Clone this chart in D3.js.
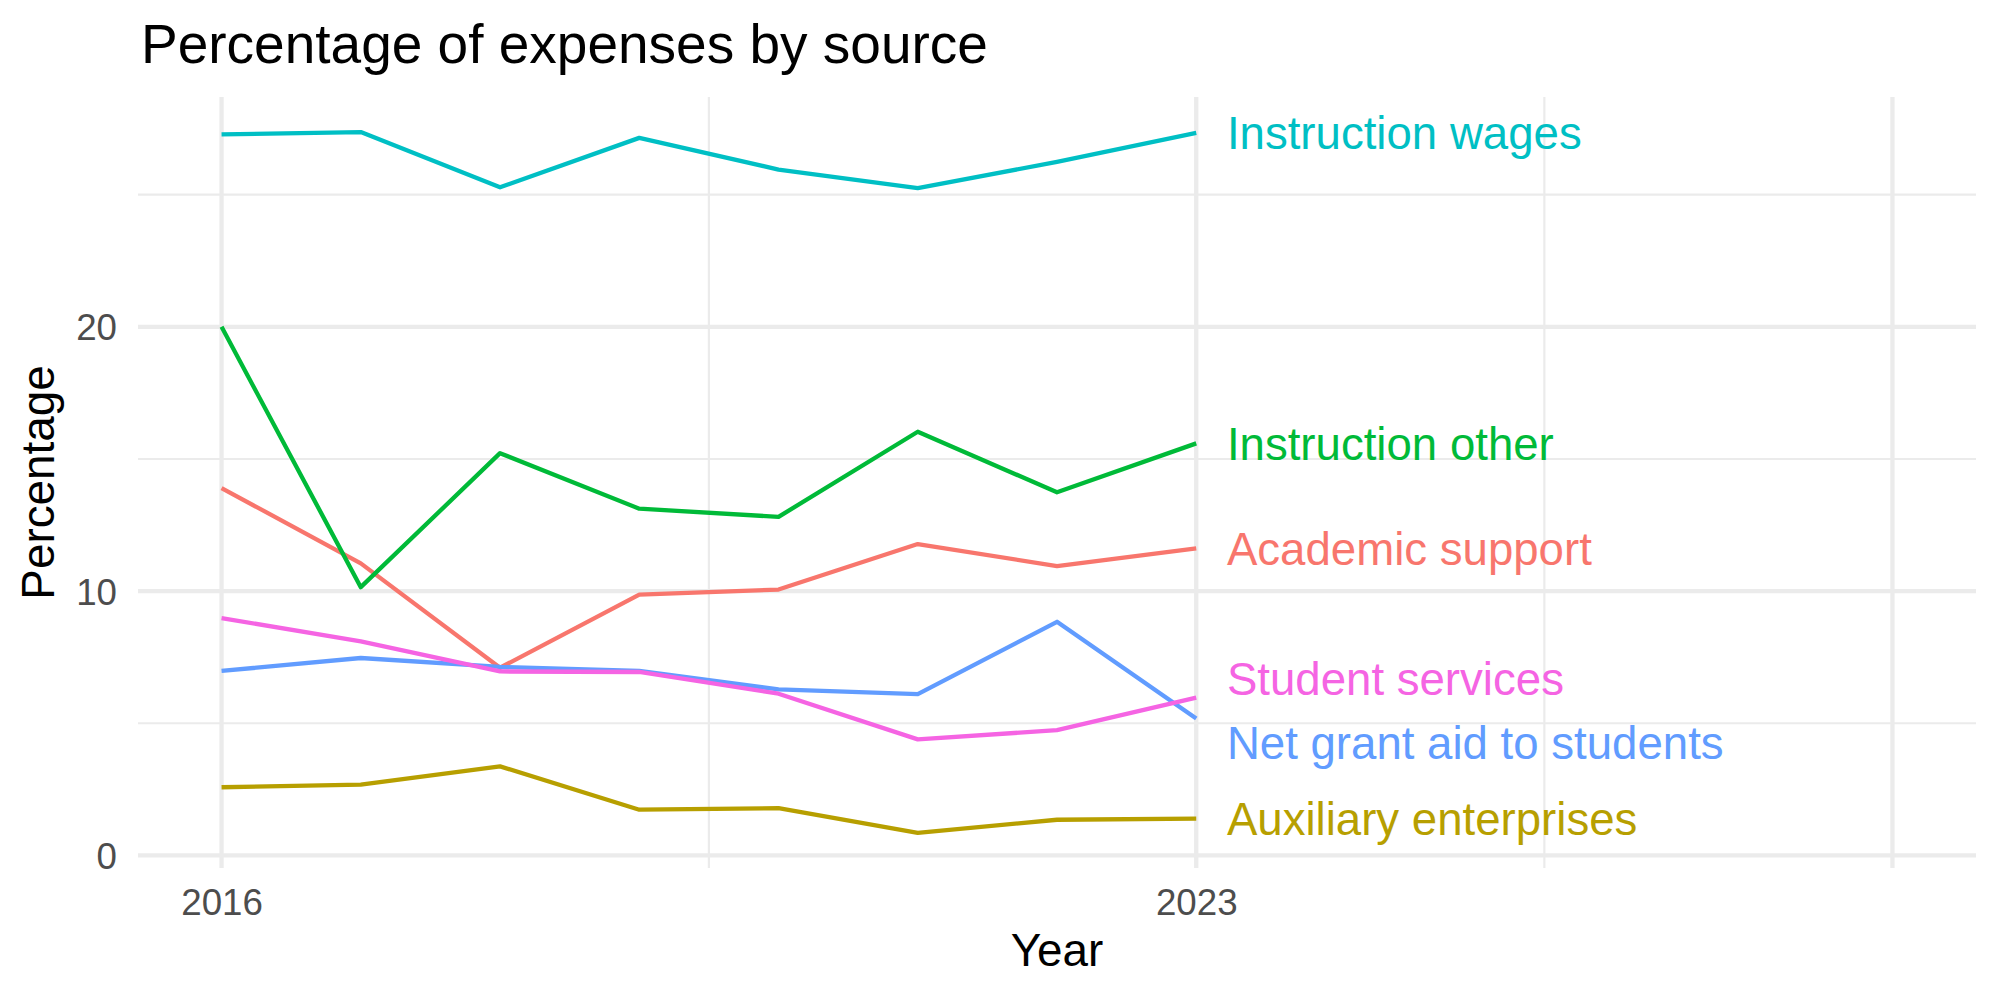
<!DOCTYPE html>
<html>
<head>
<meta charset="utf-8">
<script src="https://cdn.jsdelivr.net/npm/d3@7"></script>
<style>
  html, body { margin: 0; padding: 0; background: #ffffff; }
  svg { display: block; }
  text { font-family: "Liberation Sans", Arial, Helvetica, sans-serif; }
</style>
</head>
<body>
<svg id="chart" width="2000" height="1000"></svg>
<script>
// ---- data ----
const years = [2016, 2017, 2018, 2019, 2020, 2021, 2022, 2023];
const seriesNames = ["Academic support", "Auxiliary enterprises", "Instruction other",
                     "Instruction wages", "Net grant aid to students", "Student services"];
const academicSupport = [13.9, 11.05, 7.1, 9.87, 10.06, 11.78, 10.95, 11.62];
const auxiliaryEnterprises = [2.58, 2.68, 3.37, 1.73, 1.79, 0.85, 1.35, 1.39];
const instructionOther = [20.0, 10.15, 15.22, 13.12, 12.81, 16.03, 13.74, 15.59];
const instructionWages = [27.28, 27.37, 25.28, 27.15, 25.95, 25.25, 26.24, 27.34];
const netGrantAid = [6.98, 7.47, 7.13, 6.98, 6.28, 6.1, 8.84, 5.18];
const studentServices = [8.98, 8.1, 6.96, 6.94, 6.12, 4.39, 4.74, 5.97];
// label y values (repelled label positions, in percentage units)
const labelValues = [11.62, 1.39, 15.59, 27.34, 4.28, 6.67];
const colors = ["#F8766D", "#B79F00", "#00BA38", "#00BFC4", "#619CFF", "#F564E3"];
const xTicks = [2016, 2023, 2028];
const xTickLabels = ["2016", "2023", ""];
const xMinor = [2019.5, 2025.5];
const yTicks = [0, 10, 20];
const yMinor = [5, 15, 25];
const xLimits = [2016, 2028];
const labelNudge = 0.22;

const seriesValues = [academicSupport, auxiliaryEnterprises, instructionOther,
                      instructionWages, netGrantAid, studentServices];
const series = seriesNames.map((name, i) => ({
  name, color: colors[i], labelY: labelValues[i],
  points: years.map((yr, j) => ({ year: yr, value: seriesValues[i][j] }))
}));

// ---- layout ----
const panel = { left: 138, right: 1976, top: 97, bottom: 868 };
const svg = d3.select("#chart");

const xr = xLimits[1] - xLimits[0];
const x = d3.scaleLinear()
  .domain([xLimits[0] - 0.05 * xr, xLimits[1] + 0.05 * xr])
  .range([panel.left, panel.right]);

const allVals = seriesValues.flat();
const vMin = d3.min(allVals), vMax = d3.max(allVals);
const yr = vMax - vMin;
const y = d3.scaleLinear()
  .domain([vMin - 0.05 * yr, vMax + 0.05 * yr])
  .range([panel.bottom, panel.top]);

const grid = svg.append("g");
// minor gridlines
grid.selectAll("line.ymin").data(yMinor).join("line")
  .attr("x1", panel.left).attr("x2", panel.right)
  .attr("y1", d => y(d)).attr("y2", d => y(d))
  .attr("stroke", "#EBEBEB").attr("stroke-width", 2.2);
grid.selectAll("line.xmin").data(xMinor).join("line")
  .attr("y1", panel.top).attr("y2", panel.bottom)
  .attr("x1", d => x(d)).attr("x2", d => x(d))
  .attr("stroke", "#EBEBEB").attr("stroke-width", 2.2);
// major gridlines
grid.selectAll("line.ymaj").data(yTicks).join("line")
  .attr("x1", panel.left).attr("x2", panel.right)
  .attr("y1", d => y(d)).attr("y2", d => y(d))
  .attr("stroke", "#EBEBEB").attr("stroke-width", 4.3);
grid.selectAll("line.xmaj").data(xTicks).join("line")
  .attr("y1", panel.top).attr("y2", panel.bottom)
  .attr("x1", d => x(d)).attr("x2", d => x(d))
  .attr("stroke", "#EBEBEB").attr("stroke-width", 4.3);

// axes (labels only, via d3 axes)
const xAxis = d3.axisBottom(x).tickValues(xTicks)
  .tickFormat((d, i) => xTickLabels[i]).tickSize(0).tickPadding(0);
const gx = svg.append("g").attr("transform", `translate(0, 915)`).call(xAxis);
gx.select(".domain").remove();
gx.selectAll("text").attr("fill", "#4D4D4D").attr("font-size", 36.7)
  .attr("dy", 0).attr("y", 0)
  .style("font-family", '"Liberation Sans", Arial, Helvetica, sans-serif');

const yAxis = d3.axisLeft(y).tickValues(yTicks).tickFormat(d3.format("d"))
  .tickSize(0).tickPadding(0);
const gy = svg.append("g").attr("transform", `translate(117, 0)`).call(yAxis);
gy.select(".domain").remove();
gy.selectAll("text").attr("fill", "#4D4D4D").attr("font-size", 36.7)
  .attr("x", 0).attr("dy", "0.358em")
  .style("font-family", '"Liberation Sans", Arial, Helvetica, sans-serif');

// lines
const line = d3.line().x(d => x(d.year)).y(d => y(d.value));
svg.append("g").selectAll("path").data(series).join("path")
  .attr("d", d => line(d.points))
  .attr("fill", "none")
  .attr("stroke", d => d.color)
  .attr("stroke-width", 4.3)
  .attr("stroke-linejoin", "round")
  .attr("stroke-linecap", "butt");

// end labels
svg.append("g").selectAll("text").data(series).join("text")
  .attr("x", x(years[years.length - 1] + labelNudge))
  .attr("y", d => y(d.labelY))
  .attr("dy", "0.358em")
  .attr("fill", d => d.color)
  .attr("font-size", 45.6)
  .text(d => d.name);

// titles
svg.append("text").attr("x", 141).attr("y", 63)
  .attr("font-size", 55).attr("fill", "#000")
  .text("Percentage of expenses by source");
svg.append("text").attr("x", (panel.left + panel.right) / 2).attr("y", 966)
  .attr("text-anchor", "middle").attr("font-size", 45.8).attr("fill", "#000")
  .text("Year");
svg.append("text")
  .attr("transform", `translate(54, ${(panel.top + panel.bottom) / 2}) rotate(-90)`)
  .attr("text-anchor", "middle").attr("font-size", 45.8).attr("fill", "#000")
  .text("Percentage");
</script>
</body>
</html>
